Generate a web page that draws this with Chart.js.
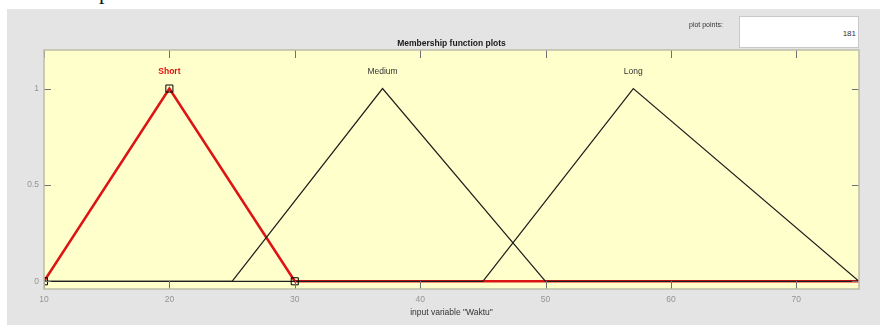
<!DOCTYPE html>
<html><head><meta charset="utf-8">
<script src="https://cdn.jsdelivr.net/npm/chart.js@4/dist/chart.umd.min.js"></script>
<style>
html,body{margin:0;padding:0;background:#fff;width:880px;height:327px;overflow:hidden;font-family:"Liberation Sans",Arial,sans-serif;}
#panel{position:absolute;left:7px;top:9px;width:873px;height:316px;background:#e4e4e4;}
#c{position:absolute;left:0;top:0;}
#pp{position:absolute;left:689px;top:20px;font-size:7px;line-height:10px;color:#333;}
#box{position:absolute;left:739px;top:16px;width:116px;height:30px;background:#fff;border:1px solid #c9c9c9;font-size:8px;color:#333;text-align:right;line-height:33px;padding-right:2px;}
#frag{position:absolute;left:99px;top:-19px;font-family:"Liberation Serif",serif;font-size:22px;line-height:22px;color:#111;}
</style></head>
<body>
<div id="frag">p</div>
<div id="panel"></div>
<canvas id="c" width="880" height="327"></canvas>
<div id="pp">plot points:</div>
<div id="box">181</div>
<script>
const chartTitle = 'Membership function plots';
const xAxisTitle = 'input variable "Waktu"';
const xTickValues = [10, 20, 30, 40, 50, 60, 70];
const yTickValues = [0, 0.5, 1];
const yTickLabels = ['0', '0.5', '1'];
const mfNames = ['Short', 'Medium', 'Long'];
const mfPeaks = [20, 37, 57];
const shortX = [10, 20, 30, 75];
const shortY = [0, 1, 0, 0];
const shortParamX = [10, 20, 30];
const shortParamY = [0, 1, 0];
const mediumX = [10, 25, 37, 50, 75];
const mediumY = [0, 0, 1, 0, 0];
const longX = [10, 45, 57, 75];
const longY = [0, 0, 1, 0];

const pts = (xs, ys) => xs.map((v, i) => ({x: v, y: ys[i]}));
const FONT = '"Liberation Sans", Arial, sans-serif';

const decor = {
  id: 'decor',
  beforeDraw(chart) {
    const {ctx, chartArea: a} = chart;
    ctx.save();
    ctx.fillStyle = '#ffffcc';
    ctx.fillRect(a.left, a.top, a.right - a.left, a.bottom - a.top);
    ctx.restore();
  },
  afterDraw(chart) {
    const {ctx, chartArea: a, scales: {x, y}} = chart;
    ctx.save();
    ctx.strokeStyle = '#707070';
    ctx.lineWidth = 1;
    ctx.beginPath();
    x.ticks.forEach(t => {
      const px = Math.round(x.getPixelForValue(t.value)) + 0.5;
      ctx.moveTo(px, a.bottom); ctx.lineTo(px, a.bottom - 8);
      ctx.moveTo(px, a.top); ctx.lineTo(px, a.top + 8);
    });
    y.ticks.forEach(t => {
      const py = Math.round(y.getPixelForValue(t.value)) + 0.5;
      ctx.moveTo(a.left, py); ctx.lineTo(a.left + 7, py);
      ctx.moveTo(a.right, py); ctx.lineTo(a.right - 7, py);
    });
    ctx.stroke();
    ctx.strokeStyle = '#bdbda8';
    ctx.lineWidth = 1.5;
    ctx.strokeRect(a.left, a.top, a.right - a.left, a.bottom - a.top);
    ctx.textAlign = 'center';
    ctx.textBaseline = 'middle';
    ctx.fillStyle = '#1a1a1a';
    ctx.font = 'bold 8.5px ' + FONT;
    ctx.fillText(chartTitle, (a.left + a.right) / 2, a.top - 6);
    mfNames.forEach((n, i) => {
      ctx.fillStyle = i === 0 ? '#e01010' : '#333333';
      ctx.font = (i === 0 ? 'bold ' : '') + '8.5px ' + FONT;
      ctx.fillText(n, x.getPixelForValue(mfPeaks[i]), y.getPixelForValue(1.09));
    });
    ctx.restore();
  }
};

new Chart(document.getElementById('c'), {
  type: 'line',
  data: {
    datasets: [
      {label: 'ShortParams', data: pts(shortParamX, shortParamY), showLine: false, order: 0,
       pointStyle: 'rect', pointRadius: 5, pointBorderColor: '#000', pointBorderWidth: 1,
       pointBackgroundColor: 'rgba(0,0,0,0)'},
      {label: 'Medium', data: pts(mediumX, mediumY), borderColor: '#1e1e1e', borderWidth: 1.2, pointRadius: 0, order: 1},
      {label: 'Long', data: pts(longX, longY), borderColor: '#1e1e1e', borderWidth: 1.2, pointRadius: 0, order: 2},
      {label: 'Short', data: pts(shortX, shortY), borderColor: '#dc1414', borderWidth: 2.6, pointRadius: 0, order: 3}
    ]
  },
  options: {
    responsive: false,
    animation: false,
    devicePixelRatio: 1,
    layout: {padding: {top: 50, right: 21, left: 0, bottom: 0}},
    plugins: {legend: {display: false}, tooltip: {enabled: false}, title: {display: false}},
    elements: {line: {tension: 0}},
    scales: {
      x: {
        type: 'linear', min: 10, max: 75,
        afterBuildTicks: s => { s.ticks = xTickValues.map(v => ({value: v})); },
        afterFit: s => { s.height = 38; },
        grid: {display: false, drawTicks: false},
        border: {display: false},
        ticks: {padding: 6, color: '#959595', font: {family: FONT, size: 8.5}},
        title: {display: true, text: xAxisTitle, color: '#333', font: {family: FONT, size: 8.5}, padding: {top: 0, bottom: 9}}
      },
      y: {
        type: 'linear', min: -0.04, max: 1.2,
        afterBuildTicks: s => { s.ticks = yTickValues.map(v => ({value: v})); },
        afterFit: s => { s.width = 44; },
        grid: {display: false, drawTicks: false},
        border: {display: false},
        ticks: {padding: 5, color: '#959595', font: {family: FONT, size: 8.5},
                callback: (v) => { const i = yTickValues.indexOf(v); return i >= 0 ? yTickLabels[i] : ''; }}
      }
    }
  },
  plugins: [decor]
});
</script>
</body></html>
